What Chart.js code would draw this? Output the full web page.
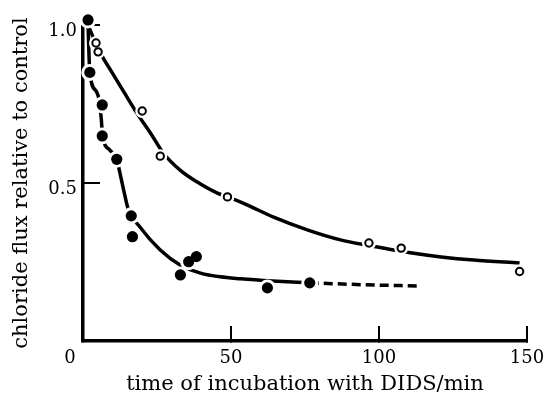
<!DOCTYPE html>
<html>
<head>
<meta charset="utf-8">
<script src="https://cdn.jsdelivr.net/npm/chart.js@4.4.0/dist/chart.umd.min.js"></script>
<style>
  body { margin: 0; background: #fff; }
  canvas { display: block; }
</style>
</head>
<body>
<canvas id="myChart" width="546" height="399"></canvas>
<script>
// measured points, open circles (upper series)
var openT = [4.4, 5.1, 20, 26.1, 48.8, 96.6, 107.5, 147.5];
var openY = [0.943, 0.915, 0.728, 0.585, 0.456, 0.31, 0.294, 0.22];

// measured points, filled circles (lower series)
var filledT = [1.7, 2.3, 6.5, 6.5, 11.4, 16.3, 16.7, 32.9, 35.7, 38.3, 62.3, 76.6];
var filledY = [1.016, 0.85, 0.747, 0.649, 0.575, 0.396, 0.33, 0.209, 0.251, 0.267, 0.168, 0.184];

// drawn curves
var upperT = [1.7, 4.4, 6.8, 10, 14, 17.6, 19.3, 23, 27.1, 32.9, 38.6, 45.4, 50, 55.6, 64.4, 76, 87, 96.6, 105, 110, 121, 132, 147.5];
var upperY = [1.0, 0.94, 0.896, 0.847, 0.785, 0.73, 0.706, 0.655, 0.595, 0.54, 0.503, 0.468, 0.452, 0.43, 0.392, 0.351, 0.32, 0.302, 0.288, 0.28, 0.266, 0.256, 0.247];

var lowerT = [1.7, 2.3, 4.5, 5.5, 6.2, 6.6, 9.0, 11.4, 12.4, 13.8, 15.2, 19.3, 26.1, 32.9, 39.7, 46.4, 53.2, 64, 76.6];
var lowerY = [1.0, 0.85, 0.79, 0.76, 0.70, 0.65, 0.605, 0.575, 0.535, 0.475, 0.42, 0.36, 0.288, 0.24, 0.215, 0.203, 0.197, 0.19, 0.184];

var dashT = [76.6, 95, 113.6];
var dashY = [0.184, 0.178, 0.174];

var xTicks = [0, 50, 100, 150];
var yTicks = [0, 0.5, 1.0];

var xTitle = 'time of incubation with DIDS/min';
var yTitle = 'chloride flux relative to control';

function pts(xs, ys) {
  var out = [];
  for (var i = 0; i < xs.length; i++) {
    out.push({ x: xs[i], y: ys[i] });
  }
  return out;
}

var serif = 'DejaVu Serif';

// the "0" sits at the corner, below-left of the origin
var originLabel = {
  id: 'originLabel',
  afterDraw: function (chart) {
    var ctx = chart.ctx;
    var x = chart.scales.x.getPixelForValue(0);
    var y = chart.scales.y.getPixelForValue(0);
    ctx.save();
    ctx.font = '18px "' + serif + '"';
    ctx.fillStyle = '#000';
    ctx.textAlign = 'center';
    ctx.textBaseline = 'middle';
    ctx.fillText('0', x - 13, y + 17);
    ctx.restore();
  }
};

var curve = {
  showLine: true,
  borderColor: '#000',
  borderWidth: 3.5,
  pointRadius: 0,
  cubicInterpolationMode: 'monotone',
  fill: false,
  clip: false,
  order: 2
};

var ctx = document.getElementById('myChart');

var chart = new Chart(ctx, {
  type: 'scatter',
  data: {
    datasets: [
      {
        label: 'open',
        data: pts(openT, openY),
        pointRadius: 3.7,
        pointBackgroundColor: '#fff',
        pointBorderColor: '#000',
        pointBorderWidth: 2,
        clip: false,
        order: 0
      },
      {
        label: 'filled',
        data: pts(filledT, filledY),
        pointRadius: 5.6,
        pointBackgroundColor: '#000',
        pointBorderWidth: 0,
        clip: false,
        order: 0
      },
      // white halos break the curves around each marker
      {
        label: 'open halo',
        data: pts(openT, openY),
        pointRadius: 7,
        pointBackgroundColor: '#fff',
        pointBorderWidth: 0,
        clip: false,
        order: 1
      },
      {
        label: 'filled halo',
        data: pts(filledT, filledY),
        pointRadius: 8.5,
        pointBackgroundColor: '#fff',
        pointBorderWidth: 0,
        clip: false,
        order: 1
      },
      Object.assign({ label: 'upper curve', data: pts(upperT, upperY) }, curve),
      Object.assign({ label: 'lower curve', data: pts(lowerT, lowerY) }, curve),
      Object.assign({ label: 'lower dashed', data: pts(dashT, dashY), borderDash: [9, 5] }, curve)
    ]
  },
  options: {
    responsive: false,
    animation: false,
    events: [],
    layout: { padding: { top: 25, right: 19, left: 0, bottom: 0 } },
    plugins: {
      legend: { display: false },
      tooltip: { enabled: false }
    },
    scales: {
      x: {
        type: 'linear',
        min: 0,
        max: 150,
        afterBuildTicks: function (scale) {
          scale.ticks = xTicks.map(function (v) { return { value: v }; });
        },
        afterFit: function (scale) {
          scale.height = 58;
          scale.paddingLeft = 0;
          scale.paddingRight = 0;
        },
        border: { color: '#000', width: 3.5 },
        grid: {
          drawOnChartArea: false,
          color: '#000',
          lineWidth: 2,
          tickLength: -15
        },
        ticks: {
          color: '#000',
          padding: 22,
          maxRotation: 0,
          font: { family: serif, size: 18 },
          callback: function (v) { return v === 0 ? '' : String(v); }
        },
        title: {
          display: true,
          text: xTitle,
          color: '#000',
          font: { family: serif, size: 21 },
          padding: { top: 0, bottom: 2 }
        }
      },
      y: {
        type: 'linear',
        min: 0,
        max: 1.0,
        afterBuildTicks: function (scale) {
          scale.ticks = yTicks.map(function (v) { return { value: v }; });
        },
        afterFit: function (scale) {
          scale.width = 83;
          scale.paddingTop = 0;
          scale.paddingBottom = 0;
        },
        border: { color: '#000', width: 3.5 },
        grid: {
          drawOnChartArea: false,
          color: '#000',
          lineWidth: 2,
          tickLength: -17
        },
        ticks: {
          color: '#000',
          padding: 23,
          labelOffset: 6,
          font: { family: serif, size: 18 },
          callback: function (v) { return v === 0 ? '' : v.toFixed(1); }
        },
        title: {
          display: true,
          text: yTitle,
          color: '#000',
          font: { family: serif, size: 21 },
          padding: { top: 9, bottom: 0 }
        }
      }
    }
  },
  plugins: [originLabel]
});
</script>
</body>
</html>
